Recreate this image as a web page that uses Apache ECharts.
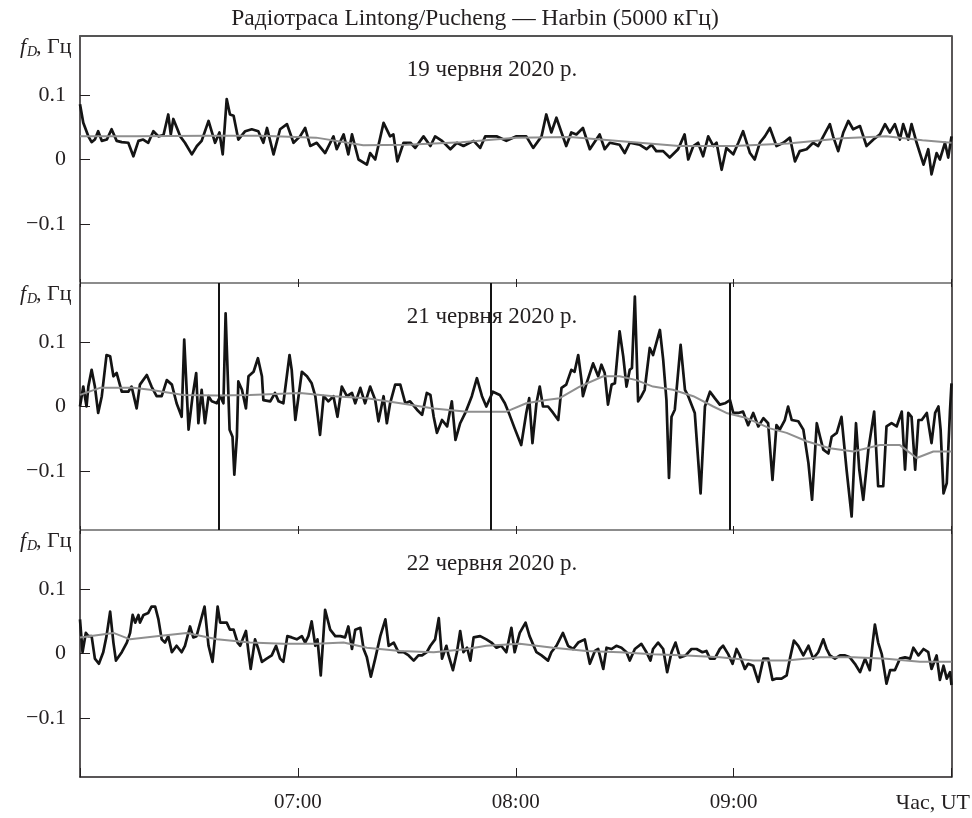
<!DOCTYPE html>
<html><head><meta charset="utf-8">
<script src="https://cdn.jsdelivr.net/npm/echarts@6/dist/echarts.min.js"></script>
<style>html,body{margin:0;padding:0;background:#fff}#c{width:972px;height:818px}</style>
</head><body><div id="c"></div><script>
// ---- text ----
const titleText = 'Радіотраса Lintong/Pucheng — Harbin (5000 кГц)';
const dayLabels = ['19 червня 2020 р.', '21 червня 2020 р.', '22 червня 2020 р.'];
const xTickValues = [60, 120, 180];            // minutes after 06:00 UT
const xTickLabels = ['07:00', '08:00', '09:00'];
const xAxisTitle = 'Час, UT';
const yTickValues = [-0.1, 0, 0.1];
const yTickLabels = ['\u22120.1', '0', '0.1'];
// vertical markers on 21 June panel (minutes after 06:00)
const markers21 = [38.1, 113.1, 179.0];

// ---- 19 June: Doppler shift (black) ----
const t19 = [0,0.9,2.3,3.2,4.1,5.0,6.0,7.4,8.7,10.1,11.5,13.3,14.7,16.1,17.4,18.8,20.2,21.6,23.0,24.3,25.0,25.7,26.7,27.6,28.9,30.8,32.2,33.5,35.4,37.2,38.4,39.3,40.4,41.3,42.3,43.6,45.5,47.3,49.1,50.5,51.5,53.3,55.1,57.0,58.8,60.6,62.0,63.4,65.2,67.5,69.8,70.7,72.6,73.9,74.9,76.7,79.0,79.9,81.3,83.6,85.4,86.3,87.4,89.1,91.0,92.3,94.6,96.5,97.8,99.7,102.0,103.8,105.6,108.4,110.2,111.6,
 114.7,117.4,120.2,122.9,124.8,127.1,128.4,129.8,131.2,132.6,133.9,135.3,136.7,138.5,140.4,143.1,144.5,145.9,148.6,150.0,151.4,154.1,156.0,157.4,158.7,160.6,162.4,164.7,166.5,167.5,168.9,170.2,171.6,173.0,174.4,175.3,176.7,178.0,179.9,181.3,182.6,184.5,185.8,187.2,188.6,190.0,191.8,193.7,195.5,196.9,198.2,200.1,201.9,203.3,204.7,206.5,207.4,208.8,210.2,211.6,212.9,214.8,216.6,218.5,220.3,221.7,223.0,224.4,225.8,226.7,228.1,229.0,230.4,232.3,233.6,234.5,235.9,236.8,238.2,239.1,240];
const f19 = [0.086,0.057,0.036,0.027,0.031,0.044,0.029,0.031,0.047,0.029,0.027,0.026,0.005,0.029,0.031,0.026,0.044,0.036,0.038,0.070,0.039,0.063,0.049,0.036,0.026,0.008,0.021,0.029,0.060,0.026,0.042,0.008,0.094,0.070,0.068,0.031,0.044,0.047,0.044,0.026,0.049,0.008,0.047,0.055,0.026,0.036,0.049,0.021,0.026,0.010,0.036,0.016,0.039,0.008,0.039,0.000,-0.008,0.010,0.000,0.057,0.036,0.039,-0.003,0.026,0.026,0.018,0.036,0.021,0.036,0.029,0.016,0.026,0.021,0.029,0.018,0.036,
 0.036,0.029,0.036,0.036,0.018,0.036,0.070,0.042,0.065,0.042,0.021,0.042,0.039,0.049,0.016,0.039,0.016,0.026,0.023,0.010,0.026,0.023,0.016,0.023,0.013,0.013,0.003,0.016,0.039,0.000,0.021,0.026,0.005,0.036,0.021,0.026,-0.016,0.018,0.008,0.026,0.044,0.010,0.000,0.026,0.036,0.049,0.021,0.026,0.034,-0.003,0.013,0.016,0.026,0.021,0.036,0.055,0.036,0.013,0.042,0.060,0.047,0.052,0.021,0.031,0.039,0.055,0.042,0.055,0.031,0.055,0.031,0.055,0.026,-0.008,0.016,-0.023,0.010,0.000,0.026,0.003,0.036];
// 19 June: trend (grey)
const t19s = [0,15,35,50,65,78,90,105,120,135,150,165,180,195,210,222,232,240];
const f19s = [0.036,0.036,0.037,0.037,0.034,0.022,0.023,0.027,0.034,0.035,0.028,0.021,0.021,0.025,0.033,0.036,0.030,0.026];

// ---- 21 June ----
const t21 = [0.0,0.9,1.8,2.3,3.2,4.1,5.0,6.0,7.3,8.3,9.2,10.1,11.5,13.3,14.2,15.6,16.5,18.4,19.7,21.1,22.5,23.9,25.3,26.6,28.0,28.7,29.9,31.0,32.0,32.6,33.5,34.4,35.4,36.3,37.7,38.6,39.5,40.1,41.2,42.0,42.5,43.2,43.6,44.6,45.7,46.4,47.8,49.0,50.1,50.5,52.4,53.7,54.7,56.0,57.7,58.3,59.3,61.1,62.5,63.8,64.8,66.1,67.1,68.4,69.8,70.9,72.1,73.5,74.9,75.8,77.2,78.5,79.9,81.3,82.2,83.6,84.5,85.4,86.8,88.2,89.6,90.9,92.8,94.2,95.5,96.5,97.4,98.3,99.7,101.1,102.4,103.4,104.7,106.1,107.9,109.3,110.7,111.9,
 113.7,115.6,117.0,118.3,119.7,121.5,122.9,123.7,124.6,125.7,126.6,127.5,128.9,130.3,131.7,132.6,133.9,135.3,136.2,137.2,138.1,138.5,139.5,141.3,142.7,143.6,144.5,145.4,146.4,147.3,148.6,149.6,150.5,151.4,152.0,152.8,153.7,154.6,155.5,156.9,157.8,159.7,160.6,161.5,162.2,162.9,163.8,165.4,166.6,167.5,169.3,170.9,172.1,173.5,174.8,176.2,177.6,179.0,179.9,181.3,182.6,184.0,185.4,186.8,188.2,189.5,190.7,191.8,192.7,194.1,195.0,196.0,197.8,199.2,200.6,201.6,202.9,203.8,204.7,206.1,207.0,208.4,209.7,211.1,212.5,213.7,214.6,215.7,217.1,218.7,219.8,221.2,222.1,223.5,224.9,226.3,227.2,228.1,229.0,230.0,230.9,231.8,233.2,234.5,235.5,236.4,237.0,237.8,238.7,239.6,240];
const f21 = [0.000,0.031,0.000,0.031,0.057,0.031,-0.010,0.016,0.080,0.078,0.047,0.052,0.023,0.023,0.031,-0.003,0.034,0.049,0.031,0.016,0.016,0.041,0.034,0.005,-0.016,0.104,-0.036,0.016,0.052,-0.026,0.026,-0.026,0.016,0.008,0.005,0.016,0.005,0.145,-0.036,-0.047,-0.106,-0.047,0.039,0.026,-0.003,0.047,0.054,0.075,0.047,0.010,0.008,0.021,0.008,0.005,0.080,0.057,-0.021,0.054,0.047,0.036,0.016,-0.044,0.016,0.008,0.016,-0.016,0.031,0.016,0.021,0.005,0.029,0.005,0.031,0.010,-0.023,0.016,-0.026,0.005,0.034,0.034,0.005,0.008,-0.005,-0.013,0.021,0.018,-0.016,-0.041,-0.021,-0.031,0.008,-0.052,-0.026,-0.010,0.016,0.044,0.016,0.000,
 0.023,0.018,0.005,-0.013,-0.034,-0.060,-0.010,0.013,-0.057,0.005,0.031,0.000,0.000,-0.010,-0.021,0.029,0.034,0.057,0.054,0.080,0.041,0.016,0.036,0.067,0.047,0.065,0.052,0.003,0.034,0.036,0.117,0.078,0.031,0.057,0.060,0.171,0.008,0.016,0.026,0.091,0.080,0.119,0.073,0.010,-0.111,-0.016,-0.005,0.096,0.026,0.016,-0.010,-0.135,0.000,0.023,0.013,0.003,0.005,0.010,-0.010,-0.010,-0.008,-0.029,-0.010,-0.031,-0.018,-0.026,-0.114,-0.029,-0.036,-0.021,0.000,-0.021,-0.023,-0.036,-0.088,-0.145,-0.026,-0.047,-0.067,-0.073,-0.047,-0.041,-0.016,-0.098,-0.171,-0.026,-0.098,-0.145,-0.067,-0.008,-0.124,-0.124,-0.031,-0.026,-0.031,-0.008,-0.098,-0.010,-0.016,-0.098,-0.021,-0.021,-0.010,-0.057,-0.010,0.000,-0.036,-0.135,-0.119,-0.005,0.036];
const t21s = [0,5.5,14.7,19.3,28.5,37.7,46.8,60.6,69.8,79.0,88.2,97.4,106.6,117.4,122.9,128.4,132.1,137.6,144.1,148.6,153.2,157.8,163.3,168.9,174.4,178.0,183.6,190.0,194.6,200.1,206.5,213.0,220.3,225.8,230.4,235.0,240];
const f21s = [0.018,0.029,0.029,0.026,0.018,0.017,0.018,0.021,0.016,0.013,0.005,-0.003,-0.008,-0.008,0.005,0.010,0.013,0.031,0.047,0.047,0.041,0.031,0.026,0.016,0.000,-0.010,-0.018,-0.034,-0.041,-0.054,-0.065,-0.070,-0.060,-0.060,-0.080,-0.070,-0.070];

// ---- 22 June ----
const t22 = [0.0,0.7,1.6,2.3,3.2,4.1,5.2,6.4,7.3,8.3,9.2,9.9,11.5,12.9,13.8,14.5,15.2,16.1,16.5,17.5,18.8,19.7,20.7,21.6,22.5,23.4,24.3,25.3,26.6,28.0,28.9,30.3,31.2,32.1,33.1,34.3,35.4,36.5,37.2,37.9,38.6,40.4,41.3,42.3,43.4,44.1,45.7,46.4,47.0,48.2,49.1,50.1,51.4,52.8,54.0,55.1,56.0,57.1,58.3,59.7,61.1,62.0,62.9,63.8,64.8,65.4,66.3,67.5,68.9,70.3,71.7,73.0,73.9,74.9,75.8,77.2,78.1,79.0,80.1,81.3,82.7,84.1,85.0,86.4,87.7,89.1,90.5,91.9,93.2,94.2,95.5,96.5,97.8,98.8,99.7,100.9,101.5,102.7,103.8,104.7,105.6,106.6,107.5,108.4,110.2,111.9,
 113.3,114.7,116.0,117.4,118.8,119.7,121.1,122.7,123.8,125.7,127.1,128.9,129.8,131.2,133.0,134.4,135.8,137.2,139.0,140.4,141.8,142.7,144.1,145.0,146.4,147.7,149.1,150.5,151.4,152.8,154.6,156.0,157.1,157.8,159.2,160.6,161.7,162.9,164.0,165.2,166.8,168.4,169.8,171.4,172.5,173.5,174.8,176.2,177.1,178.5,179.7,180.8,181.7,183.1,184.0,185.4,186.8,188.2,189.5,190.7,191.8,193.2,194.6,195.5,196.6,197.8,199.2,200.6,201.9,203.3,204.7,205.6,206.5,207.9,209.3,210.7,212.0,213.4,214.8,216.2,217.5,218.3,218.9,219.8,220.8,222.1,223.1,224.4,225.8,227.2,228.6,229.5,230.9,232.3,233.6,234.5,235.9,236.8,237.8,238.7,239.6,240];
const f22 = [0.053,0.002,0.032,0.027,0.027,-0.008,-0.016,0.002,0.027,0.065,0.017,-0.011,0.002,0.017,0.032,0.060,0.048,0.060,0.048,0.060,0.063,0.073,0.073,0.053,0.022,0.017,0.027,0.002,0.012,0.002,0.012,0.042,0.025,0.027,0.048,0.073,0.012,-0.013,0.027,0.073,0.048,0.048,0.037,0.037,0.017,0.012,0.035,0.002,-0.024,0.022,0.007,-0.013,-0.008,-0.003,0.012,-0.008,-0.013,0.027,0.025,0.022,0.027,0.017,0.027,0.050,0.012,0.022,-0.034,0.068,0.037,0.027,0.027,0.025,0.042,0.007,0.037,0.040,0.007,-0.006,-0.036,-0.008,0.027,0.053,0.012,0.017,0.002,0.002,-0.003,-0.011,-0.003,-0.003,0.002,0.012,0.022,0.055,-0.008,0.012,-0.003,-0.026,0.002,0.035,0.002,0.009,-0.011,0.025,0.027,0.022,
 0.017,0.009,0.012,0.002,0.040,0.002,0.032,0.048,0.027,0.002,-0.003,-0.011,0.002,0.012,0.032,0.012,0.007,0.017,0.022,-0.016,0.004,0.007,-0.024,0.009,0.007,0.012,0.009,0.002,-0.011,0.007,0.015,0.002,-0.011,0.007,0.017,0.007,-0.029,0.002,0.017,-0.006,-0.003,0.007,0.007,0.002,0.004,-0.008,-0.008,0.007,0.012,-0.001,-0.016,0.007,-0.003,-0.024,-0.016,-0.019,-0.044,-0.008,-0.008,-0.041,-0.039,-0.039,-0.034,-0.008,0.020,0.012,-0.003,0.012,-0.008,0.002,0.022,0.007,-0.003,-0.008,-0.003,-0.003,-0.006,-0.016,-0.029,-0.008,-0.026,0.017,0.045,0.017,-0.001,-0.047,-0.026,-0.026,-0.008,-0.006,-0.008,0.009,-0.003,0.007,0.002,-0.024,-0.003,-0.041,-0.019,-0.039,-0.029,-0.049];
const t22s = [0,9.2,13.8,21.1,29.4,37.7,46.8,56.0,65.2,72.6,79.0,88.2,97.4,106.6,111.9,121.1,130.3,139.5,148.6,157.8,167.0,176.2,185.4,194.6,203.8,213.0,222.1,231.3,240];
const f22s = [0.025,0.032,0.022,0.027,0.032,0.022,0.017,0.015,0.015,0.017,0.009,0.004,0.002,0.007,0.012,0.015,0.009,0.004,0.002,-0.001,-0.003,-0.006,-0.011,-0.011,-0.006,-0.006,-0.008,-0.013,-0.013];

// ---- build ----
const zip = (t, v) => t.slice(0, Math.min(t.length, v.length)).map((x, i) => [x, v[i]]);
const FONT = '"Liberation Serif", "Times New Roman", serif';
const TXT = '#231f20';
const L = 80, W = 871.5, H = 247, tops = [36, 283, 530];
const Y0 = -0.192, Y1 = 0.192;
const panels = [
  {raw: zip(t19, f19), trend: zip(t19s, f19s)},
  {raw: zip(t21, f21), trend: zip(t21s, f21s)},
  {raw: zip(t22, f22), trend: zip(t22s, f22s)}
];
const grid = tops.map(t => ({left: L, top: t, width: W, height: H, show: false}));
const xAxis = [], yAxis = [], series = [], graphic = [];
const inner = '#8c8c8c';
tops.forEach((top, i) => {
  // bottom axis
  xAxis.push({
    gridIndex: i, type: 'value', min: 0, max: 240, interval: 60, position: 'bottom',
    axisLine: {show: true, onZero: false, lineStyle: {color: i === 2 ? '#231f20' : inner, width: i === 2 ? 1.5 : 2}},
    axisTick: {show: true, inside: true, length: i === 2 ? 9 : 4, lineStyle: {color: '#231f20', width: 1}},
    axisLabel: {show: i === 2, margin: 15, fontFamily: FONT, fontSize: 21, color: TXT,
      formatter: v => { const k = xTickValues.indexOf(v); return k >= 0 ? xTickLabels[k] : ''; }},
    splitLine: {show: false}
  });
  // top axis
  xAxis.push({
    gridIndex: i, type: 'value', min: 0, max: 240, interval: 60, position: 'top',
    axisLine: {show: true, onZero: false, lineStyle: {color: i === 0 ? '#555' : inner, width: 2}},
    axisTick: {show: i > 0, inside: true, length: 4, lineStyle: {color: '#231f20', width: 1}},
    axisLabel: {show: false}, splitLine: {show: false}
  });
  yAxis.push({
    gridIndex: i, type: 'value', min: Y0, max: Y1, position: 'left',
    axisLine: {show: true, onZero: false, lineStyle: {color: '#231f20', width: 1.5}},
    axisTick: {show: true, inside: true, length: 10, customValues: yTickValues, lineStyle: {color: '#231f20', width: 1}},
    axisLabel: {show: true, customValues: yTickValues, margin: 14, fontFamily: FONT, fontSize: 22, color: TXT,
      formatter: v => { const k = yTickValues.findIndex(u => Math.abs(u - v) < 1e-9); return k >= 0 ? yTickLabels[k] : ''; }},
    splitLine: {show: false}
  });
  yAxis.push({
    gridIndex: i, type: 'value', min: Y0, max: Y1, position: 'right',
    axisLine: {show: true, onZero: false, lineStyle: {color: '#231f20', width: 1.5}},
    axisTick: {show: false}, axisLabel: {show: false}, splitLine: {show: false}
  });
  const s = {
    type: 'line', xAxisIndex: 2 * i, yAxisIndex: 2 * i, data: panels[i].raw,
    showSymbol: false, symbol: 'none', smooth: false, z: 3,
    lineStyle: {color: '#141414', width: 2.7, join: 'round'}
  };
  if (i === 1) {
    s.markLine = {
      silent: true, symbol: ['none', 'none'], label: {show: false},
      lineStyle: {color: '#141414', width: 2, type: 'solid'},
      data: markers21.map(m => ({xAxis: m}))
    };
  }
  series.push(s);
  series.push({
    type: 'line', xAxisIndex: 2 * i, yAxisIndex: 2 * i, data: panels[i].trend,
    showSymbol: false, symbol: 'none', smooth: false, z: 4,
    lineStyle: {color: '#8f8f8f', width: 2}
  });
  // panel labels
  graphic.push({type: 'text', x: 492, y: top + 34, style: {text: dayLabels[i], fontFamily: FONT, fontSize: 23, fill: TXT, align: 'center', verticalAlign: 'middle'}});
  graphic.push({type: 'text', x: 20, y: top + 11, style: {text: 'f', fontFamily: FONT, fontStyle: 'italic', fontSize: 22, fill: TXT, align: 'left', verticalAlign: 'middle'}});
  graphic.push({type: 'text', x: 27, y: top + 16, style: {text: 'D', fontFamily: FONT, fontStyle: 'italic', fontSize: 14, fill: TXT, align: 'left', verticalAlign: 'middle'}});
  graphic.push({type: 'text', x: 36, y: top + 11, style: {text: ', Гц', fontFamily: FONT, fontSize: 22, fill: TXT, align: 'left', verticalAlign: 'middle'}});
});
graphic.push({type: 'text', x: 475, y: 19, style: {text: titleText, fontFamily: FONT, fontSize: 23.5, fill: TXT, align: 'center', verticalAlign: 'middle'}});
graphic.push({type: 'text', x: 970, y: 803, style: {text: xAxisTitle, fontFamily: FONT, fontSize: 22, fill: TXT, align: 'right', verticalAlign: 'middle'}});

const chart = echarts.init(document.getElementById('c'), null, {renderer: 'canvas'});
chart.setOption({animation: false, backgroundColor: '#fff', grid, xAxis, yAxis, series, graphic});
</script></body></html>
